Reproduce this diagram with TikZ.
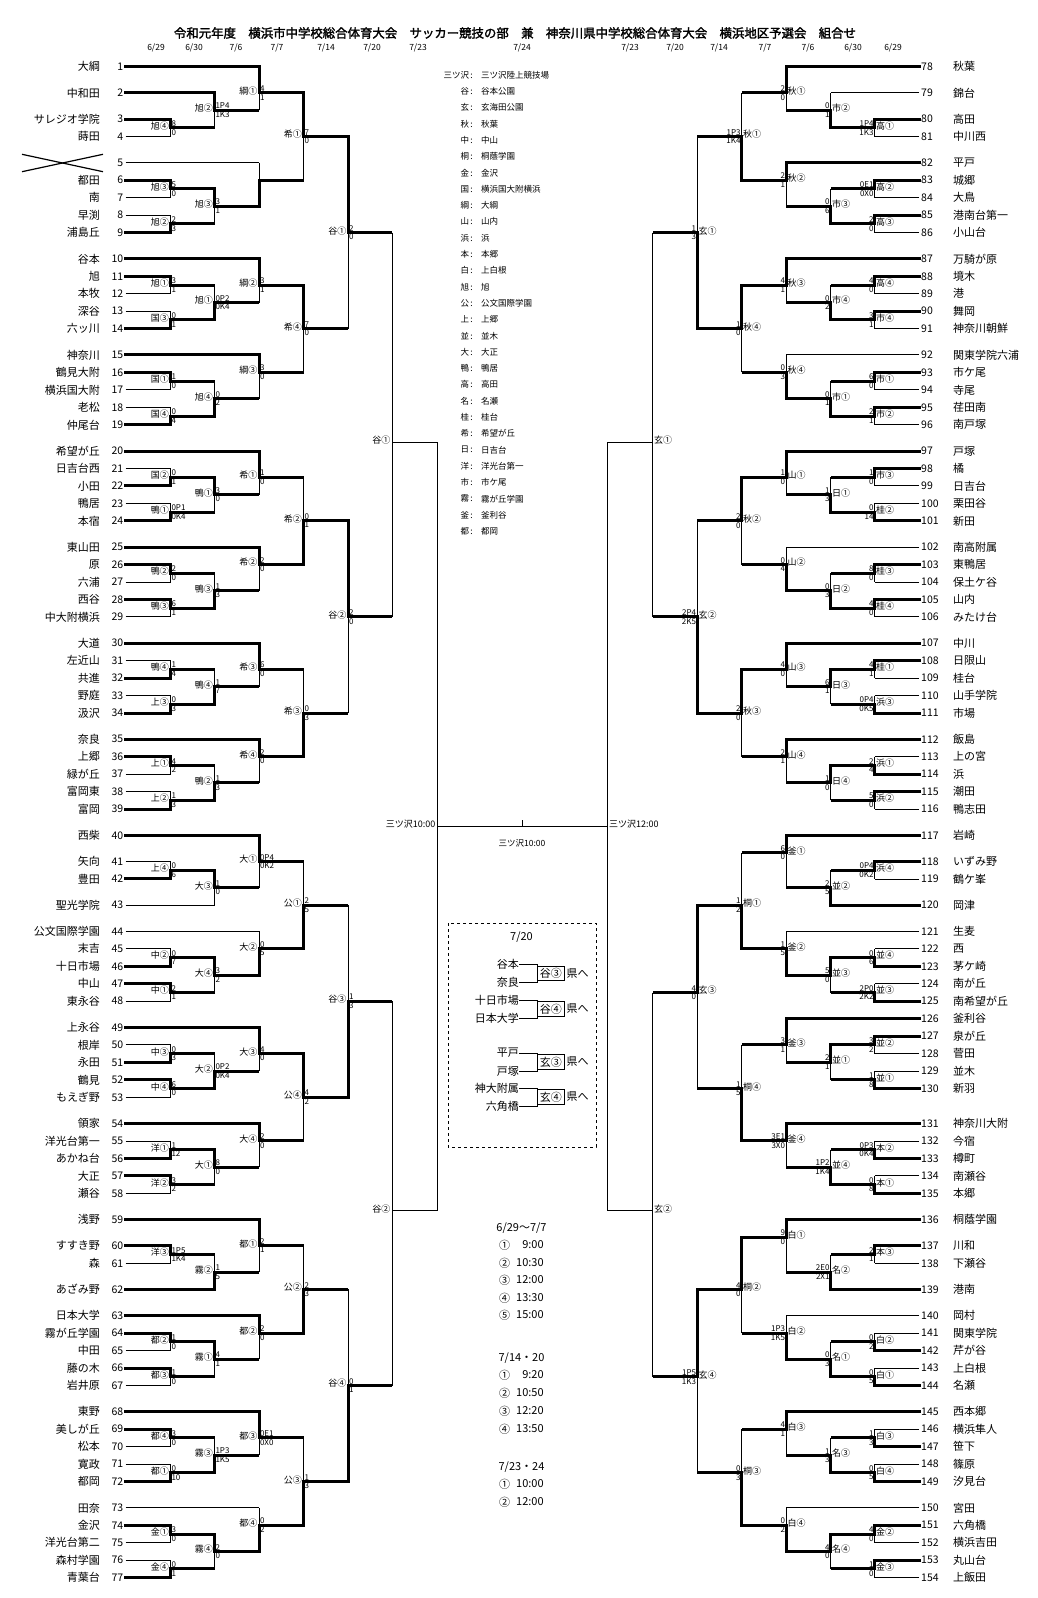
\documentclass[tikz,border=0pt]{standalone}
\usepackage{fontspec}
\setmainfont{Noto Sans CJK JP}[AutoFakeBold=2]
\tikzstyle{win}=[line width=3pt, line cap=rect]
\tikzstyle{lose}=[line width=0.9pt, line cap=butt]
\tikzstyle{tname}=[font=\fontsize{11}{11}\selectfont, inner sep=0pt]
\tikzstyle{tnum}=[font=\fontsize{10.5}{10.5}\selectfont, inner sep=0pt]
\tikzstyle{glab}=[font=\fontsize{9}{9}\selectfont, inner sep=0pt]
\tikzstyle{gsc}=[font=\fontsize{8}{8}\selectfont, inner sep=0pt]
\tikzstyle{small}=[font=\fontsize{8.5}{8.5}\selectfont, inner sep=0pt]
\tikzstyle{mid}=[font=\fontsize{11}{11}\selectfont, inner sep=0pt]
% columns, left and right half
\newcommand{\cA}{170.5}\newcommand{\cB}{214.5}\newcommand{\cC}{259}
\newcommand{\cD}{303.5}\newcommand{\cE}{348}\newcommand{\cF}{392}\newcommand{\cG}{437}
\newcommand{\dA}{874.5}\newcommand{\dB}{830.5}\newcommand{\dC}{786}
\newcommand{\dD}{741.5}\newcommand{\dE}{697}\newcommand{\dF}{652.5}\newcommand{\dG}{607.5}
\newcommand{\Y}[1]{{-66.7-8.734*(#1)}}
\newcommand{\lteam}[3]{%
  \node[tname,anchor=east] (nm#1) at (100,\Y{#2}) {#3};
  \node[tnum,anchor=east] (no#1) at (123.5,\Y{#2}) {#1};
  \coordinate (t#1) at (125.5,\Y{#2});
  \expandafter\def\csname hwt#1\endcsname{lose}}
\newcommand{\rteam}[3]{%
  \coordinate (t#1) at (919,\Y{#2});
  \node[tnum,anchor=west] (no#1) at (921,\Y{#2}) {#1};
  \node[tname,anchor=west] (nm#1) at (953,\Y{#2}) {#3};
  \expandafter\def\csname hwt#1\endcsname{lose}}
\newcommand{\game}[6]{%
  \coordinate (#1) at (#2,\Y{#3});
  \if#6T
    \draw[win] (#4) -- (#4 -| #1) -- (#1);
    \draw[\csname hw#5\endcsname,line cap=butt] (#5) -- (#5 -| #1);
    \draw[lose] (#5 -| #1) -- (#1);
    \expandafter\def\csname hw#1\endcsname{win}%
  \else\if#6B
    \draw[win] (#5) -- (#5 -| #1) -- (#1);
    \draw[\csname hw#4\endcsname,line cap=butt] (#4) -- (#4 -| #1);
    \draw[lose] (#4 -| #1) -- (#1);
    \expandafter\def\csname hw#1\endcsname{win}%
  \else
    \draw[\csname hw#4\endcsname,line cap=butt] (#4) -- (#4 -| #1);
    \draw[\csname hw#5\endcsname,line cap=butt] (#5) -- (#5 -| #1);
    \draw[lose] (#4 -| #1) -- (#5 -| #1);
    \expandafter\def\csname hw#1\endcsname{lose}%
  \fi\fi}
\newcommand{\lgame}[9]{%
  \game{#1}{#2}{#3}{#4}{#5}{#6}%
  \node[glab,anchor=east] (lb#1) at ([xshift=-1.5pt,yshift=2pt]#1) {#7};
  \node[gsc,anchor=south west] (sa#1) at ([xshift=0.8pt,yshift=1.2pt]#1) {#8};
  \node[gsc,anchor=north west] (sb#1) at ([xshift=0.8pt,yshift=-1.2pt]#1) {#9};}
\newcommand{\rgame}[9]{%
  \game{#1}{#2}{#3}{#4}{#5}{#6}%
  \node[glab,anchor=west] (lb#1) at ([xshift=1.5pt,yshift=2pt]#1) {#7};
  \node[gsc,anchor=south east] (sa#1) at ([xshift=-0.8pt,yshift=1.2pt]#1) {#8};
  \node[gsc,anchor=north east] (sb#1) at ([xshift=-0.8pt,yshift=-1.2pt]#1) {#9};}
\newcommand{\venue}[3]{%
  \node[small,anchor=east] (vk#1) at (473,{-75-16.3*(#1)}) {#2\,:};
  \node[small,anchor=west] (vv#1) at (481,{-75-16.3*(#1)}) {#3};}
\newcommand{\adv}[5]{%
  \node[mid,anchor=east] (pa#1) at (519,{-(#2)}) {#3};
  \node[mid,anchor=east] (pb#1) at (519,{-(#2)-18}) {#4};
  \node[mid,draw,line width=0.9pt,inner xsep=2.5pt,inner ysep=2pt,anchor=west] (bx#1) at (537,{-(#2)-9}) {#5};
  \node[mid,anchor=west] (ke#1) at ([xshift=1.5pt]bx#1.east) {県へ};
  \draw[lose] (pa#1.east) -| (bx#1.west);
  \draw[lose] (pb#1.east) -| (bx#1.west);}
\newcommand{\slot}[4]{%
  \node[mid,anchor=west] (sn#1) at (499,{-(#2)}) {#3};
  \node[mid,anchor=west] (st#1) at (516,{-(#2)}) {#4};}

\begin{document}
\begin{tikzpicture}[x=1pt,y=1pt]
\fill[white] (0,0) rectangle (1038,-1598);
\useasboundingbox (0,0) rectangle (1038,-1598);
\node[font=\fontsize{12.4}{12.4}\selectfont\bfseries] (title) at (515,-33)
  {令和元年度　横浜市中学校総合体育大会　サッカー競技の部　兼　神奈川県中学校総合体育大会　横浜地区予選会　組合せ};
% dates
\node[small] (h1) at (156,-48) {6/29};  \node[small] (h2) at (194,-48) {6/30};
\node[small] (h3) at (236,-48) {7/6};   \node[small] (h4) at (277,-48) {7/7};
\node[small] (h5) at (326,-48) {7/14};  \node[small] (h6) at (372,-48) {7/20};
\node[small] (h7) at (418,-48) {7/23};  \node[small] (h8) at (522,-48) {7/24};
\node[small] (h9) at (630,-48) {7/23};  \node[small] (h10) at (675,-48) {7/20};
\node[small] (h11) at (719,-48) {7/14}; \node[small] (h12) at (765,-48) {7/7};
\node[small] (h13) at (808,-48) {7/6};  \node[small] (h14) at (853,-48) {6/30};
\node[small] (h15) at (893,-48) {6/29};
% left teams
\lteam{1}{0}{大綱}\lteam{2}{3}{中和田}\lteam{3}{6}{サレジオ学院}\lteam{4}{8}{蒔田}
\lteam{5}{11}{}\lteam{6}{13}{都田}\lteam{7}{15}{南}\lteam{8}{17}{早渕}\lteam{9}{19}{浦島丘}
\lteam{10}{22}{谷本}\lteam{11}{24}{旭}\lteam{12}{26}{本牧}\lteam{13}{28}{深谷}\lteam{14}{30}{六ッ川}
\lteam{15}{33}{神奈川}\lteam{16}{35}{鶴見大附}\lteam{17}{37}{横浜国大附}\lteam{18}{39}{老松}\lteam{19}{41}{仲尾台}
\lteam{20}{44}{希望が丘}\lteam{21}{46}{日吉台西}\lteam{22}{48}{小田}\lteam{23}{50}{鴨居}\lteam{24}{52}{本宿}
\lteam{25}{55}{東山田}\lteam{26}{57}{原}\lteam{27}{59}{六浦}\lteam{28}{61}{西谷}\lteam{29}{63}{中大附横浜}
\lteam{30}{66}{大道}\lteam{31}{68}{左近山}\lteam{32}{70}{共進}\lteam{33}{72}{野庭}\lteam{34}{74}{汲沢}
\lteam{35}{77}{奈良}\lteam{36}{79}{上郷}\lteam{37}{81}{緑が丘}\lteam{38}{83}{富岡東}\lteam{39}{85}{富岡}
\lteam{40}{88}{西柴}\lteam{41}{91}{矢向}\lteam{42}{93}{豊田}\lteam{43}{96}{聖光学院}
\lteam{44}{99}{公文国際学園}\lteam{45}{101}{末吉}\lteam{46}{103}{十日市場}\lteam{47}{105}{中山}\lteam{48}{107}{東永谷}
\lteam{49}{110}{上永谷}\lteam{50}{112}{根岸}\lteam{51}{114}{永田}\lteam{52}{116}{鶴見}\lteam{53}{118}{もえぎ野}
\lteam{54}{121}{領家}\lteam{55}{123}{洋光台第一}\lteam{56}{125}{あかね台}\lteam{57}{127}{大正}\lteam{58}{129}{瀬谷}
\lteam{59}{132}{浅野}\lteam{60}{135}{すすき野}\lteam{61}{137}{森}\lteam{62}{140}{あざみ野}
\lteam{63}{143}{日本大学}\lteam{64}{145}{霧が丘学園}\lteam{65}{147}{中田}\lteam{66}{149}{藤の木}\lteam{67}{151}{岩井原}
\lteam{68}{154}{東野}\lteam{69}{156}{美しが丘}\lteam{70}{158}{松本}\lteam{71}{160}{寛政}\lteam{72}{162}{都岡}
\lteam{73}{165}{田奈}\lteam{74}{167}{金沢}\lteam{75}{169}{洋光台第二}\lteam{76}{171}{森村学園}\lteam{77}{173}{青葉台}
\draw[line width=1.2pt] (22,-154.3) -- (103,-171.7);
\draw[line width=1.2pt] (22,-171.7) -- (103,-154.3);
% right teams
\rteam{78}{0}{秋葉}\rteam{79}{3}{錦台}\rteam{80}{6}{高田}\rteam{81}{8}{中川西}
\rteam{82}{11}{平戸}\rteam{83}{13}{城郷}\rteam{84}{15}{大鳥}\rteam{85}{17}{港南台第一}\rteam{86}{19}{小山台}
\rteam{87}{22}{万騎が原}\rteam{88}{24}{境木}\rteam{89}{26}{港}\rteam{90}{28}{舞岡}\rteam{91}{30}{神奈川朝鮮}
\rteam{92}{33}{関東学院六浦}\rteam{93}{35}{市ケ尾}\rteam{94}{37}{寺尾}\rteam{95}{39}{荏田南}\rteam{96}{41}{南戸塚}
\rteam{97}{44}{戸塚}\rteam{98}{46}{橘}\rteam{99}{48}{日吉台}\rteam{100}{50}{栗田谷}\rteam{101}{52}{新田}
\rteam{102}{55}{南高附属}\rteam{103}{57}{東鴨居}\rteam{104}{59}{保土ケ谷}\rteam{105}{61}{山内}\rteam{106}{63}{みたけ台}
\rteam{107}{66}{中川}\rteam{108}{68}{日限山}\rteam{109}{70}{桂台}\rteam{110}{72}{山手学院}\rteam{111}{74}{市場}
\rteam{112}{77}{飯島}\rteam{113}{79}{上の宮}\rteam{114}{81}{浜}\rteam{115}{83}{潮田}\rteam{116}{85}{鴨志田}
\rteam{117}{88}{岩崎}\rteam{118}{91}{いずみ野}\rteam{119}{93}{鶴ケ峯}\rteam{120}{96}{岡津}
\rteam{121}{99}{生麦}\rteam{122}{101}{西}\rteam{123}{103}{茅ケ崎}\rteam{124}{105}{南が丘}\rteam{125}{107}{南希望が丘}
\rteam{126}{109}{釜利谷}\rteam{127}{111}{泉が丘}\rteam{128}{113}{菅田}\rteam{129}{115}{並木}\rteam{130}{117}{新羽}
\rteam{131}{121}{神奈川大附}\rteam{132}{123}{今宿}\rteam{133}{125}{樽町}\rteam{134}{127}{南瀬谷}\rteam{135}{129}{本郷}
\rteam{136}{132}{桐蔭学園}\rteam{137}{135}{川和}\rteam{138}{137}{下瀬谷}\rteam{139}{140}{港南}
\rteam{140}{143}{岡村}\rteam{141}{145}{関東学院}\rteam{142}{147}{芹が谷}\rteam{143}{149}{上白根}\rteam{144}{151}{名瀬}
\rteam{145}{154}{西本郷}\rteam{146}{156}{横浜隼人}\rteam{147}{158}{笹下}\rteam{148}{160}{篠原}\rteam{149}{162}{汐見台}
\rteam{150}{165}{宮田}\rteam{151}{167}{六角橋}\rteam{152}{169}{横浜吉田}\rteam{153}{171}{丸山台}\rteam{154}{173}{上飯田}
% left bracket
\lgame{a1}{\cA}{7}{t3}{t4}{T}{旭④}{8}{0}
\lgame{a2}{\cA}{14}{t6}{t7}{T}{旭③}{5}{0}
\lgame{a3}{\cA}{18}{t8}{t9}{B}{旭②}{2}{3}
\lgame{a4}{\cB}{5}{t2}{a1}{T}{旭②}{1P4}{1K3}
\lgame{a5}{\cB}{16}{a2}{a3}{T}{旭③}{3}{1}
\lgame{a6}{\cC}{3}{t1}{a4}{T}{綱①}{4}{1}
\lgame{a7}{\cC}{13}{t5}{a5}{B}{}{}{}
\lgame{a8}{\cD}{8}{a6}{a7}{T}{希①}{7}{0}
\lgame{b1}{\cA}{25}{t11}{t12}{T}{旭①}{3}{1}
\lgame{b2}{\cA}{29}{t13}{t14}{B}{国③}{0}{1}
\lgame{b3}{\cB}{27}{b1}{b2}{B}{旭①}{0P2}{0K4}
\lgame{b4}{\cC}{25}{t10}{b3}{T}{綱②}{3}{1}
\lgame{b5}{\cA}{36}{t16}{t17}{T}{国①}{1}{0}
\lgame{b6}{\cA}{40}{t18}{t19}{B}{国④}{0}{4}
\lgame{b7}{\cB}{38}{b5}{b6}{B}{旭④}{0}{2}
\lgame{b8}{\cC}{35}{t15}{b7}{T}{綱③}{3}{0}
\lgame{b9}{\cD}{30}{b4}{b8}{T}{希④}{7}{0}
\lgame{ab}{\cE}{19}{a8}{b9}{T}{谷①}{2}{0}
\lgame{c1}{\cA}{47}{t21}{t22}{B}{国②}{0}{1}
\lgame{c2}{\cA}{51}{t23}{t24}{B}{鴨①}{0P1}{0K4}
\lgame{c3}{\cB}{49}{c1}{c2}{T}{鴨①}{3}{0}
\lgame{c4}{\cC}{47}{t20}{c3}{T}{希①}{1}{0}
\lgame{c5}{\cA}{58}{t26}{t27}{T}{鴨②}{2}{0}
\lgame{c6}{\cA}{62}{t28}{t29}{T}{鴨③}{6}{1}
\lgame{c7}{\cB}{60}{c5}{c6}{B}{鴨③}{1}{3}
\lgame{c8}{\cC}{57}{t25}{c7}{T}{希②}{2}{0}
\lgame{c9}{\cD}{52}{c4}{c8}{B}{希②}{0}{1}
\lgame{d1}{\cA}{69}{t31}{t32}{B}{鴨④}{1}{4}
\lgame{d2}{\cA}{73}{t33}{t34}{B}{上③}{0}{3}
\lgame{d3}{\cB}{71}{d1}{d2}{B}{鴨④}{1}{7}
\lgame{d4}{\cC}{69}{t30}{d3}{T}{希③}{6}{0}
\lgame{d5}{\cA}{80}{t36}{t37}{T}{上①}{4}{2}
\lgame{d6}{\cA}{84}{t38}{t39}{B}{上②}{1}{3}
\lgame{d7}{\cB}{82}{d5}{d6}{B}{鴨②}{1}{3}
\lgame{d8}{\cC}{79}{t35}{d7}{T}{希④}{2}{0}
\lgame{d9}{\cD}{74}{d4}{d8}{B}{希③}{0}{3}
\lgame{cd}{\cE}{63}{c9}{d9}{T}{谷②}{2}{0}
\lgame{ad}{\cF}{43}{ab}{cd}{N}{谷①}{}{}
\lgame{e1}{\cA}{92}{t41}{t42}{B}{上④}{0}{6}
\lgame{e2}{\cB}{94}{e1}{t43}{T}{大③}{1}{0}
\lgame{e3}{\cC}{91}{t40}{e2}{T}{大①}{0P4}{0K2}
\lgame{e4}{\cA}{102}{t45}{t46}{B}{中②}{0}{7}
\lgame{e5}{\cA}{106}{t47}{t48}{T}{中①}{2}{1}
\lgame{e6}{\cB}{104}{e4}{e5}{T}{大④}{3}{2}
\lgame{e7}{\cC}{101}{t44}{e6}{B}{大②}{0}{5}
\lgame{e8}{\cD}{96}{e3}{e7}{B}{公①}{2}{5}
\lgame{f1}{\cA}{113}{t50}{t51}{B}{中③}{0}{3}
\lgame{f2}{\cA}{117}{t52}{t53}{T}{中④}{6}{0}
\lgame{f3}{\cB}{115}{f1}{f2}{B}{大②}{0P2}{0K4}
\lgame{f4}{\cC}{113}{t49}{f3}{T}{大③}{4}{0}
\lgame{f5}{\cA}{124}{t55}{t56}{B}{洋①}{1}{12}
\lgame{f6}{\cA}{128}{t57}{t58}{T}{洋②}{3}{2}
\lgame{f7}{\cB}{126}{f5}{f6}{T}{大①}{8}{0}
\lgame{f8}{\cC}{123}{t54}{f7}{T}{大④}{2}{0}
\lgame{f9}{\cD}{118}{f4}{f8}{T}{公④}{4}{2}
\lgame{ef}{\cE}{107}{e8}{f9}{B}{谷③}{1}{3}
\lgame{g1}{\cA}{136}{t60}{t61}{T}{洋③}{1P5}{1K4}
\lgame{g2}{\cB}{138}{g1}{t62}{B}{霧②}{1}{5}
\lgame{g3}{\cC}{135}{t59}{g2}{T}{都①}{2}{1}
\lgame{g4}{\cA}{146}{t64}{t65}{T}{都②}{1}{0}
\lgame{g5}{\cA}{150}{t66}{t67}{T}{都③}{1}{0}
\lgame{g6}{\cB}{148}{g4}{g5}{T}{霧①}{4}{1}
\lgame{g7}{\cC}{145}{t63}{g6}{T}{都②}{2}{0}
\lgame{g8}{\cD}{140}{g3}{g7}{B}{公②}{2}{3}
\lgame{h1}{\cA}{157}{t69}{t70}{T}{都④}{3}{0}
\lgame{h2}{\cA}{161}{t71}{t72}{B}{都①}{0}{10}
\lgame{h3}{\cB}{159}{h1}{h2}{B}{霧③}{1P3}{1K5}
\lgame{h4}{\cC}{157}{t68}{h3}{T}{都③}{0E1}{0X0}
\lgame{h5}{\cA}{168}{t74}{t75}{T}{金①}{3}{0}
\lgame{h6}{\cA}{172}{t76}{t77}{B}{金④}{0}{1}
\lgame{h7}{\cB}{170}{h5}{h6}{T}{霧④}{2}{0}
\lgame{h8}{\cC}{167}{t73}{h7}{B}{都④}{0}{2}
\lgame{h9}{\cD}{162}{h4}{h8}{B}{公③}{1}{3}
\lgame{gh}{\cE}{151}{g8}{h9}{B}{谷④}{0}{1}
\lgame{eh}{\cF}{131}{ef}{gh}{N}{谷②}{}{}
\lgame{lf}{\cG}{87}{ad}{eh}{N}{三ツ沢10:00}{}{}
% right bracket
\rgame{p1}{\dA}{7}{t80}{t81}{T}{高①}{1P4}{1K3}
\rgame{p2}{\dB}{5}{t79}{p1}{B}{市②}{0}{1}
\rgame{p3}{\dC}{3}{t78}{p2}{T}{秋①}{2}{0}
\rgame{p4}{\dA}{14}{t83}{t84}{T}{高②}{0E1}{0X0}
\rgame{p5}{\dA}{18}{t85}{t86}{T}{高③}{2}{0}
\rgame{p6}{\dB}{16}{p4}{p5}{B}{市③}{0}{6}
\rgame{p7}{\dC}{13}{t82}{p6}{T}{秋②}{2}{1}
\rgame{p8}{\dD}{8}{p3}{p7}{B}{秋①}{1P3}{1K4}
\rgame{q1}{\dA}{25}{t88}{t89}{T}{高④}{4}{0}
\rgame{q2}{\dA}{29}{t90}{t91}{T}{市④}{3}{1}
\rgame{q3}{\dB}{27}{q1}{q2}{B}{市④}{0}{2}
\rgame{q4}{\dC}{25}{t87}{q3}{T}{秋③}{4}{1}
\rgame{q5}{\dA}{36}{t93}{t94}{T}{市①}{6}{0}
\rgame{q6}{\dA}{40}{t95}{t96}{T}{市②}{2}{1}
\rgame{q7}{\dB}{38}{q5}{q6}{B}{市①}{0}{1}
\rgame{q8}{\dC}{35}{t92}{q7}{B}{秋④}{0}{3}
\rgame{q9}{\dD}{30}{q4}{q8}{T}{秋④}{1}{0}
\rgame{pq}{\dE}{19}{p8}{q9}{B}{玄①}{1}{3}
\rgame{r1}{\dA}{47}{t98}{t99}{T}{市③}{1}{0}
\rgame{r2}{\dA}{51}{t100}{t101}{B}{桂②}{0}{14}
\rgame{r3}{\dB}{49}{r1}{r2}{B}{日①}{1}{3}
\rgame{r4}{\dC}{47}{t97}{r3}{T}{山①}{1}{0}
\rgame{r5}{\dA}{58}{t103}{t104}{T}{桂③}{8}{0}
\rgame{r6}{\dA}{62}{t105}{t106}{T}{桂④}{4}{0}
\rgame{r7}{\dB}{60}{r5}{r6}{B}{日②}{0}{3}
\rgame{r8}{\dC}{57}{t102}{r7}{B}{山②}{0}{4}
\rgame{r9}{\dD}{52}{r4}{r8}{T}{秋②}{2}{0}
\rgame{s1}{\dA}{69}{t108}{t109}{T}{桂①}{4}{1}
\rgame{s2}{\dA}{73}{t110}{t111}{B}{浜③}{0P4}{0K5}
\rgame{s3}{\dB}{71}{s1}{s2}{T}{日③}{6}{1}
\rgame{s4}{\dC}{69}{t107}{s3}{T}{山③}{4}{0}
\rgame{s5}{\dA}{80}{t113}{t114}{B}{浜①}{2}{4}
\rgame{s6}{\dA}{84}{t115}{t116}{T}{浜②}{5}{0}
\rgame{s7}{\dB}{82}{s5}{s6}{T}{日④}{1}{0}
\rgame{s8}{\dC}{79}{t112}{s7}{T}{山④}{2}{1}
\rgame{s9}{\dD}{74}{s4}{s8}{T}{秋③}{2}{0}
\rgame{rs}{\dE}{63}{r9}{s9}{B}{玄②}{2P4}{2K5}
\rgame{ps}{\dF}{43}{pq}{rs}{N}{玄①}{}{}
\rgame{u1}{\dA}{92}{t118}{t119}{T}{浜④}{0P4}{0K2}
\rgame{u2}{\dB}{94}{u1}{t120}{B}{並②}{2}{5}
\rgame{u3}{\dC}{90}{t117}{u2}{T}{釜①}{6}{0}
\rgame{u4}{\dA}{102}{t122}{t123}{B}{並④}{0}{6}
\rgame{u5}{\dA}{106}{t124}{t125}{B}{並③}{2P0}{2K2}
\rgame{u6}{\dB}{104}{u4}{u5}{T}{並③}{5}{0}
\rgame{u7}{\dC}{101}{t121}{u6}{B}{釜②}{1}{5}
\rgame{u8}{\dD}{96}{u3}{u7}{B}{桐①}{1}{2}
\rgame{v1}{\dA}{112}{t127}{t128}{T}{並②}{3}{2}
\rgame{v2}{\dA}{116}{t129}{t130}{B}{並①}{1}{8}
\rgame{v3}{\dB}{114}{v1}{v2}{T}{並①}{2}{1}
\rgame{v4}{\dC}{112}{t126}{v3}{T}{釜③}{3}{1}
\rgame{v5}{\dA}{124}{t132}{t133}{B}{本②}{0P3}{0K4}
\rgame{v6}{\dA}{128}{t134}{t135}{B}{本①}{0}{8}
\rgame{v7}{\dB}{126}{v5}{v6}{B}{並④}{1P2}{1K4}
\rgame{v8}{\dC}{123}{t131}{v7}{T}{釜④}{3E1}{3X0}
\rgame{v9}{\dD}{117}{v4}{v8}{B}{桐④}{1}{5}
\rgame{uv}{\dE}{106}{u8}{v9}{T}{玄③}{4}{0}
\rgame{w1}{\dA}{136}{t137}{t138}{T}{本③}{2}{1}
\rgame{w2}{\dB}{138}{w1}{t139}{B}{名②}{2E0}{2X1}
\rgame{w3}{\dC}{134}{t136}{w2}{T}{白①}{9}{0}
\rgame{w4}{\dA}{146}{t141}{t142}{B}{白②}{0}{2}
\rgame{w5}{\dA}{150}{t143}{t144}{B}{白①}{0}{5}
\rgame{w6}{\dB}{148}{w4}{w5}{B}{名①}{0}{3}
\rgame{w7}{\dC}{145}{t140}{w6}{B}{白②}{1P3}{1K5}
\rgame{w8}{\dD}{140}{w3}{w7}{T}{桐②}{4}{0}
\rgame{x1}{\dA}{157}{t146}{t147}{B}{白③}{1}{3}
\rgame{x2}{\dA}{161}{t148}{t149}{B}{白④}{0}{5}
\rgame{x3}{\dB}{159}{x1}{x2}{B}{名③}{1}{3}
\rgame{x4}{\dC}{156}{t145}{x3}{T}{白③}{4}{1}
\rgame{x5}{\dA}{168}{t151}{t152}{T}{金②}{4}{0}
\rgame{x6}{\dA}{172}{t153}{t154}{T}{金③}{1}{0}
\rgame{x7}{\dB}{170}{x5}{x6}{T}{名④}{4}{0}
\rgame{x8}{\dC}{167}{t150}{x7}{B}{白④}{0}{2}
\rgame{x9}{\dD}{161}{x4}{x8}{B}{桐③}{0}{3}
\rgame{wx}{\dE}{150}{w8}{x9}{T}{玄④}{1P5}{1K3}
\rgame{ux}{\dF}{131}{uv}{wx}{N}{玄②}{}{}
\rgame{rf}{\dG}{87}{ps}{ux}{N}{三ツ沢12:00}{}{}
% final
\coordinate (ctr) at (522,\Y{87});
\draw[lose] (lf) -- (rf);
\draw[lose] (ctr) -- ++(0,7);
\node[small] (fin) at (522,-843) {三ツ沢10:00};
% venues
\venue{0}{三ツ沢}{三ツ沢陸上競技場}\venue{1}{谷}{谷本公園}\venue{2}{玄}{玄海田公園}
\venue{3}{秋}{秋葉}\venue{4}{中}{中山}\venue{5}{桐}{桐蔭学園}\venue{6}{金}{金沢}
\venue{7}{国}{横浜国大附横浜}\venue{8}{綱}{大綱}\venue{9}{山}{山内}\venue{10}{浜}{浜}
\venue{11}{本}{本郷}\venue{12}{白}{上白根}\venue{13}{旭}{旭}\venue{14}{公}{公文国際学園}
\venue{15}{上}{上郷}\venue{16}{並}{並木}\venue{17}{大}{大正}\venue{18}{鴨}{鴨居}
\venue{19}{高}{高田}\venue{20}{名}{名瀬}\venue{21}{桂}{桂台}\venue{22}{希}{希望が丘}
\venue{23}{日}{日吉台}\venue{24}{洋}{洋光台第一}\venue{25}{市}{市ケ尾}
\venue{26}{霧}{霧が丘学園}\venue{27}{釜}{釜利谷}\venue{28}{都}{都岡}
% 7/20 box
\draw[dashed,line width=0.9pt] (448,-923) rectangle (596,-1147);
\node[mid] (bxd) at (521.5,-937) {7/20};
\adv{1}{964.6}{谷本}{奈良}{谷③}
\adv{2}{1000}{十日市場}{日本大学}{谷④}
\adv{3}{1053}{平戸}{戸塚}{玄③}
\adv{4}{1088}{神大附属}{六角橋}{玄④}
% start times
\node[mid] (ta) at (521.5,-1228) {6/29～7/7};
\slot{1}{1245}{①}{\hphantom{1}9:00}\slot{2}{1263}{②}{10:30}\slot{3}{1280}{③}{12:00}
\slot{4}{1298}{④}{13:30}\slot{5}{1315}{⑤}{15:00}
\node[mid] (tb) at (521.5,-1358) {7/14・20};
\slot{6}{1375}{①}{\hphantom{1}9:20}\slot{7}{1393}{②}{10:50}\slot{8}{1411}{③}{12:20}\slot{9}{1429}{④}{13:50}
\node[mid] (tc) at (521.5,-1467) {7/23・24};
\slot{10}{1484}{①}{10:00}\slot{11}{1502}{②}{12:00}
\end{tikzpicture}
\end{document}
